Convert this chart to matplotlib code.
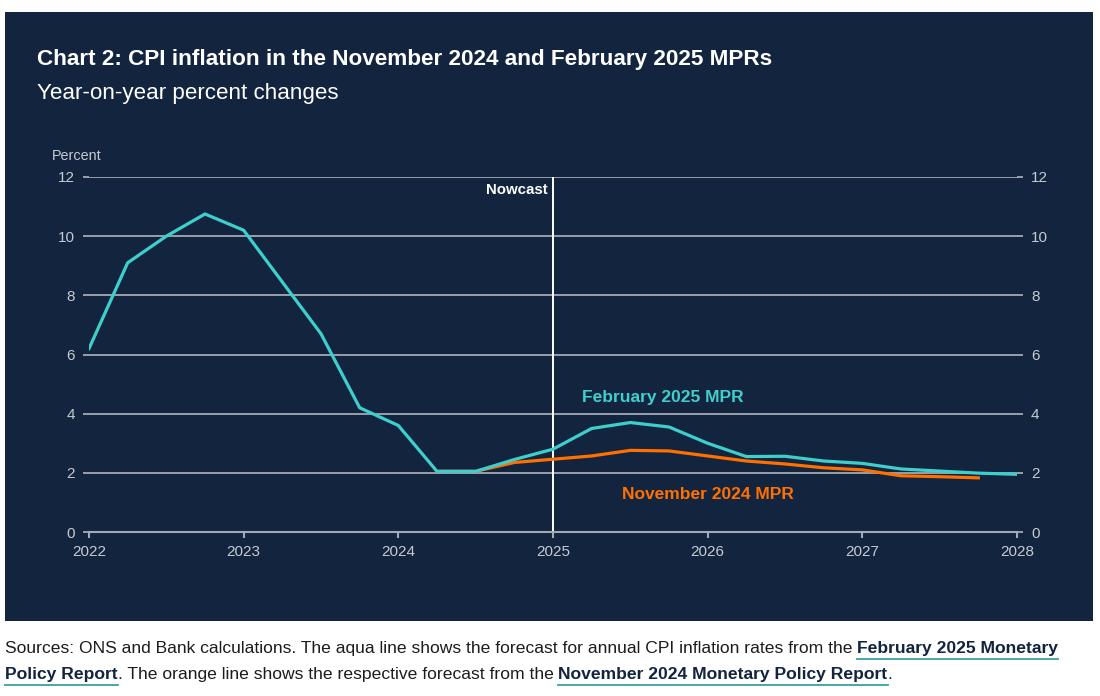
import matplotlib
matplotlib.use("Agg")
import matplotlib.pyplot as plt
import pandas as pd
from matplotlib.patches import Rectangle
from matplotlib.lines import Line2D

plt.rcParams['font.family'] = ['Liberation Sans', 'DejaVu Sans']

# ---------------- data ----------------
feb_quarters = pd.period_range('2022Q1', '2028Q1', freq='Q')
feb_2025_mpr = [6.2, 9.1, 10.0, 10.75, 10.2, 8.45, 6.7, 4.2, 3.6, 2.05, 2.05, 2.45,
                2.8, 3.5, 3.7, 3.55, 3.0, 2.55, 2.56, 2.4, 2.32, 2.13, 2.06, 1.99, 1.95]
nov_quarters = pd.period_range('2024Q2', '2027Q4', freq='Q')
nov_2024_mpr = [2.05, 2.05, 2.35, 2.46, 2.57, 2.76, 2.74, 2.57, 2.4, 2.3, 2.17, 2.1,
                1.9, 1.87, 1.83]
year_ticks = [2022, 2023, 2024, 2025, 2026, 2027, 2028]
y_ticks = [0, 2, 4, 6, 8, 10, 12]
nowcast_year = 2025

title = "Chart 2: CPI inflation in the November 2024 and February 2025 MPRs"
subtitle = "Year-on-year percent changes"


def to_year(periods):
    return [p.year + (p.quarter - 1) / 4 for p in periods]


# ---------------- style ----------------
W, H = 1100, 696
BG = '#13243f'
AQUA = '#3ecfcc'
ORANGE = '#ff7000'
GRID = '#a3aab3'
TICK = '#c6cbd2'

fig = plt.figure(figsize=(W / 100, H / 100), dpi=100, facecolor='white')
fig.patches.append(Rectangle((5 / W, 1 - 621 / H), (1093 - 5) / W, (621 - 12) / H,
                             transform=fig.transFigure, facecolor=BG, edgecolor='none', zorder=-10))

ax = fig.add_axes([89 / W, 1 - 532 / H, (1017 - 89) / W, (532 - 177) / H])
ax.set_zorder(5)
ax.set_facecolor('none')
ax.set_xlim(2022, 2028)
ax.set_ylim(0, 12)

for v in y_ticks[1:]:
    ax.axhline(v, color=GRID, lw=1.3, zorder=1)

ax.plot(to_year(nov_quarters), nov_2024_mpr, color=ORANGE, lw=2.3, zorder=3,
        solid_joinstyle='round')
ax.plot(to_year(feb_quarters), feb_2025_mpr, color=AQUA, lw=2.3, zorder=4,
        solid_joinstyle='round')

ax.axvline(nowcast_year, color='white', lw=1.4, zorder=2)
ax.text(nowcast_year - 0.035, 11.55, 'Nowcast', color='white', fontsize=10.8,
        fontweight='bold', ha='right', va='center')

ax.text(2025.71, 4.56, 'February 2025 MPR', color=AQUA, fontsize=12.5,
        fontweight='bold', ha='center', va='center')
ax.text(2026.0, 1.28, 'November 2024 MPR', color=ORANGE, fontsize=12.5,
        fontweight='bold', ha='center', va='center')

for s in ['top', 'left', 'right']:
    ax.spines[s].set_visible(False)
ax.spines['bottom'].set_color(GRID)
ax.spines['bottom'].set_linewidth(1.5)

ax.set_xticks(year_ticks)
ax.set_xticklabels([str(y) for y in year_ticks])
ax.set_yticks(y_ticks)
ax.set_yticklabels([str(v) for v in y_ticks])
ax.tick_params(axis='x', colors=GRID, labelcolor=TICK, labelsize=11, length=4,
               width=1.5, pad=5)
ax.tick_params(axis='y', which='both', left=True, right=True, labelleft=True,
               labelright=True, colors=GRID, labelcolor=TICK, labelsize=11,
               length=4, width=1.3, pad=6)

fig.text(37 / W, 1 - 65 / H, title, color='white', fontsize=16.2, fontweight='bold',
         ha='left', va='baseline')
fig.text(37 / W, 1 - 99 / H, subtitle, color='white', fontsize=16.1,
         ha='left', va='baseline')
fig.text(52 / W, 1 - 160 / H, 'Percent', color=TICK, fontsize=10.4, ha='left',
         va='baseline')

# ---------------- footer ----------------
footer_lines = [
    [("Sources: ONS and Bank calculations. The aqua line shows the forecast for annual CPI inflation rates from the ", False),
     ("February 2025 Monetary", True)],
    [("Policy Report", True), (". The orange line shows the respective forecast from the ", False),
     ("November 2024 Monetary Policy Report", True), (".", False)],
]
baselines = [653, 679]
fig.canvas.draw()
renderer = fig.canvas.get_renderer()
for line, base in zip(footer_lines, baselines):
    x = 5.0
    for txt, bold in line:
        t = fig.text(x / W, 1 - base / H, txt, fontsize=12.6,
                     fontweight='bold' if bold else 'normal',
                     color=BG if bold else '#1c1c1c', ha='left', va='baseline')
        bb = t.get_window_extent(renderer=renderer)
        if bold:
            fig.add_artist(Line2D([x / W, (x + bb.width) / W],
                                  [1 - (base + 6) / H, 1 - (base + 6) / H],
                                  transform=fig.transFigure, color='#3a9fa3', lw=1.3))
        x += bb.width

fig.savefig('out.png', dpi=100, facecolor='white')
